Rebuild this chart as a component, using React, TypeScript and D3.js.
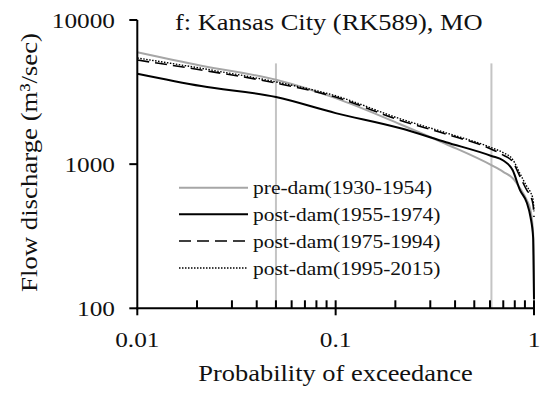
import * as d3 from 'd3';

// ─── Data ───────────────────────────────────────────────────

const PROB = [0.01, 0.021, 0.05, 0.1, 0.21, 0.36, 0.61, 0.7, 0.78, 0.85, 0.92, 0.96, 0.99, 1];

const PRE_DAM = [5970, 4815, 3850, 2870, 1900, 1380, 984, 885, 800, 681, 562, 480, 330, 120];
const POST_1955_1974 = [4240, 3480, 2920, 2260, 1780, 1420, 1140, 1060, 910, 660, 540, 430, 310, 115];
const POST_1975_1994 = [5275, 4500, 3650, 2920, 2020, 1615, 1270, 1155, 1040, 820, 660, 600, 520, 430];
const POST_1995_2015 = [5450, 4620, 3720, 2980, 2070, 1650, 1300, 1200, 1080, 860, 700, 640, 560, 470];

const LEGEND_LABELS = [
  'pre-dam(1930-1954)',
  'post-dam(1955-1974)',
  'post-dam(1975-1994)',
  'post-dam(1995-2015)',
];

const X_TICKS = [0.01, 0.1, 1];
const X_TICK_LABELS = ['0.01', '0.1', '1'];
const Y_TICKS = [100, 1000, 10000];
const Y_TICK_LABELS = ['100', '1000', '10000'];
const MARKER_PROBS = [0.05, 0.61];

// ─── Styles ─────────────────────────────────────────────────

const FONT = '"Liberation Serif", "Times New Roman", serif';
const SX = 1.15; // the picture's text is a little wide
const STYLES = [
  { color: '#a6a6a6', dash: null, width: 2 },
  { color: '#000', dash: null, width: 2 },
  { color: '#000', dash: '12 6', width: 1.6 },
  { color: '#000', dash: '1.5 1.5', width: 1.4 },
];

const PLOT = { left: 137.3, right: 534, top: 20, bottom: 308.3 };

function SText({ x, y, size, anchor = 'start', children }: any) {
  return (
    <text
      transform={`translate(${x},${y}) scale(${SX},1)`}
      textAnchor={anchor}
      fontSize={size}
      fontFamily={FONT}
      fill="#111"
    >
      {children}
    </text>
  );
}

export default function App() {
  const x = d3.scaleLog().domain([0.01, 1]).range([PLOT.left, PLOT.right]);
  const y = d3.scaleLog().domain([100, 10000]).range([PLOT.bottom, PLOT.top]);

  const series = [PRE_DAM, POST_1955_1974, POST_1975_1994, POST_1995_2015];
  const line = d3
    .line<[number, number]>()
    .x((d) => x(d[0]))
    .y((d) => y(d[1]))
    .curve(d3.curveMonotoneX);

  const minorX: number[] = [];
  [0.01, 0.1].forEach((base) => {
    for (let k = 2; k <= 9; k++) minorX.push(base * k);
  });

  const legendY = [187.7, 214.3, 241, 268];

  return (
    <svg width={542} height={393} style={{ position: 'absolute', left: 0, top: 0, background: '#fff' }}>
      {/* marker lines */}
      {MARKER_PROBS.map((p) => (
        <line key={p} x1={x(p)} x2={x(p)} y1={y(5000)} y2={y(100)} stroke="#c4c4c4" strokeWidth={2} />
      ))}

      {/* curves, drawn so the pre-dam gray sits underneath */}
      {series.map((vals, i) => (
        <path
          key={i}
          d={line(PROB.map((p, j) => [p, vals[j]] as [number, number])) ?? ''}
          fill="none"
          stroke={STYLES[i].color}
          strokeWidth={STYLES[i].width}
          strokeDasharray={STYLES[i].dash ?? undefined}
          strokeLinejoin="round"
        />
      ))}

      {/* axes */}
      <line x1={PLOT.left} x2={PLOT.left} y1={PLOT.top} y2={PLOT.bottom + 1} stroke="#000" strokeWidth={2} />
      <line x1={PLOT.left - 1} x2={PLOT.right + 1} y1={PLOT.bottom} y2={PLOT.bottom} stroke="#000" strokeWidth={2} />
      {Y_TICKS.map((t, i) => (
        <g key={t}>
          <line x1={PLOT.left - 8} x2={PLOT.left} y1={y(t)} y2={y(t)} stroke="#000" strokeWidth={2} />
          <SText x={115} y={y(t) + 8} size={22} anchor="end">
            {Y_TICK_LABELS[i]}
          </SText>
        </g>
      ))}
      {minorX.map((t) => (
        <line key={t} x1={x(t)} x2={x(t)} y1={PLOT.bottom - 8} y2={PLOT.bottom} stroke="#000" strokeWidth={2} />
      ))}
      {X_TICKS.map((t, i) => (
        <g key={t}>
          <line
            x1={x(t)}
            x2={x(t)}
            y1={i === 0 ? PLOT.bottom : PLOT.bottom - 8}
            y2={PLOT.bottom + 7}
            stroke="#000"
            strokeWidth={2}
          />
          <SText x={x(t)} y={347} size={22} anchor="middle">
            {X_TICK_LABELS[i]}
          </SText>
        </g>
      ))}

      {/* titles */}
      <SText x={175} y={30} size={23}>
        f: Kansas City (RK589), MO
      </SText>
      <SText x={335.5} y={381} size={23} anchor="middle">
        Probability of exceedance
      </SText>
      <text
        transform="translate(37,162.5) rotate(-90)"
        textAnchor="middle"
        fontSize={24}
        fontFamily={FONT}
        fill="#111"
        textLength={259}
        lengthAdjust="spacingAndGlyphs"
      >
        Flow discharge (m³/sec)
      </text>

      {/* legend */}
      {LEGEND_LABELS.map((label, i) => (
        <g key={label}>
          <line
            x1={179}
            x2={248}
            y1={legendY[i]}
            y2={legendY[i]}
            stroke={STYLES[i].color}
            strokeWidth={STYLES[i].width}
            strokeDasharray={STYLES[i].dash ?? undefined}
          />
          <SText x={253} y={legendY[i] + 6.5} size={18.7}>
            {label}
          </SText>
        </g>
      ))}
    </svg>
  );
}
